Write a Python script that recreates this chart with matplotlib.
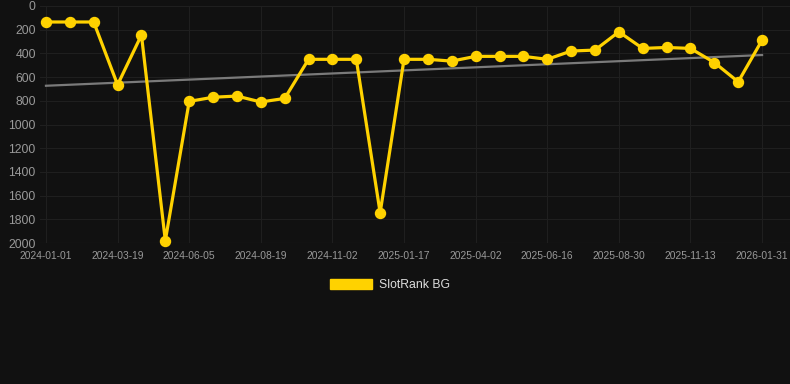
import matplotlib
matplotlib.use("Agg")
import matplotlib.pyplot as plt
import numpy as np
from matplotlib.patches import Patch

tick_labels = ["2024-01-01", "2024-03-19", "2024-06-05", "2024-08-19", "2024-11-02",
               "2025-01-17", "2025-04-02", "2025-06-16", "2025-08-30", "2025-11-13", "2026-01-31"]
rank = [135, 135, 135, 665, 245, 1980, 805, 770, 760, 810, 780,
        450, 450, 450, 1745, 450, 450, 465, 425, 425, 425, 450,
        380, 372, 218, 358, 350, 358, 477, 640, 288]
series_name = "SlotRank BG"

plt.rcParams['font.family'] = ['Liberation Sans', 'DejaVu Sans']
bg = "#111111"
yellow = "#FFD200"

fig = plt.figure(figsize=(7.9, 3.84), dpi=100, facecolor=bg)
ax = fig.add_axes([40/790, 1-243/384, 750/790, 237/384], facecolor=bg)

x = np.arange(len(rank))
ax.plot(x, rank, color=yellow, lw=2.3, marker='o', ms=7.2, zorder=3, label=series_name,
        solid_joinstyle='miter', clip_on=False)
coef = np.polyfit(x, rank, 1)
ax.plot(x[[0, -1]], np.polyval(coef, x[[0, -1]]), color="#7a7a7a", lw=1.6, zorder=2)

ax.set_ylim(2000, 0)
ax.set_xlim(-0.25, 31.17)
ax.set_yticks(np.arange(0, 2001, 200))
tick_pos = np.arange(0, len(rank), 3)
ax.set_xticks(tick_pos)
ax.set_xticklabels(tick_labels)
ax.tick_params(axis='y', labelsize=8.8, length=0, pad=3)
ax.tick_params(axis='x', labelsize=7.4, length=0, pad=6)
for lbl in ax.get_yticklabels() + ax.get_xticklabels():
    lbl.set_color("#999999")
ax.grid(True, color="#1f1f1f", lw=0.8)
for s in ax.spines.values():
    s.set_visible(False)
ax.axhline(2000, color="#2a2a2a", lw=0.8, zorder=1)

handle = Patch(facecolor=yellow, edgecolor=yellow)
leg = fig.legend([handle], [series_name], loc='center', bbox_to_anchor=(390/790, 1-285/384),
                 frameon=False, fontsize=8.8, handlelength=3.4, handleheight=0.95,
                 handletextpad=0.55, labelcolor="#dddddd")

fig.savefig("out.png", dpi=100, facecolor=bg)
